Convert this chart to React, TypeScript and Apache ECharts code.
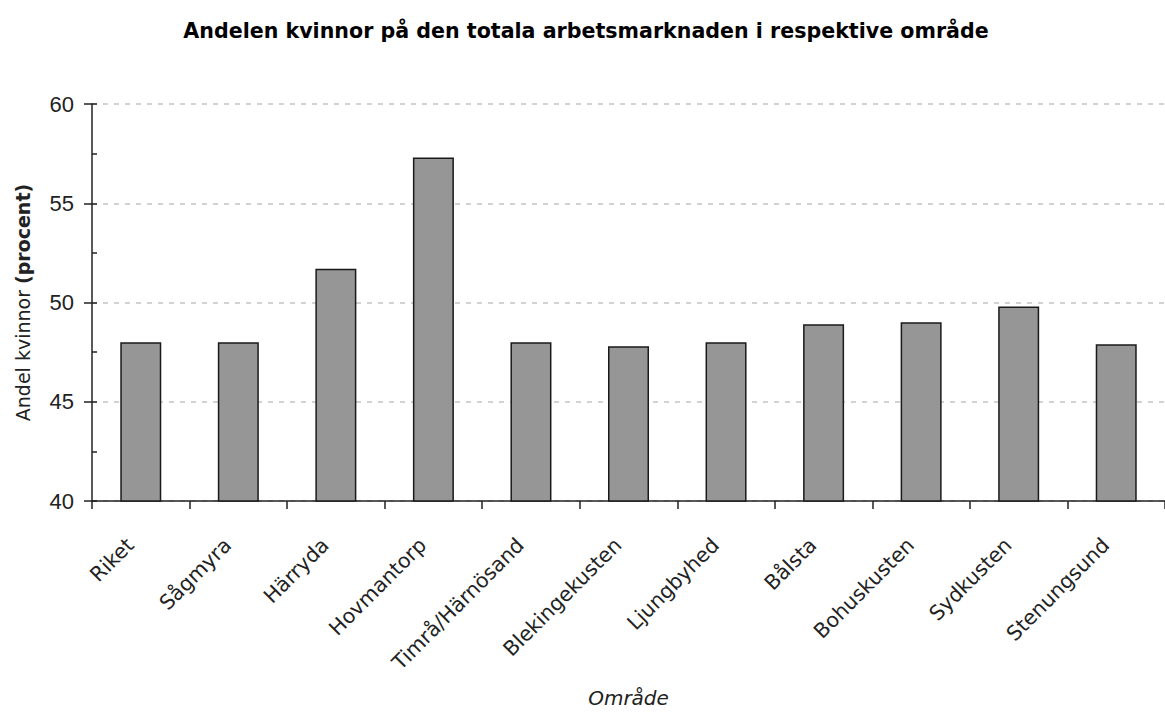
import React, { useEffect, useRef } from "react";
import * as echarts from "echarts";

const categories = [
  "Riket",
  "Sågmyra",
  "Härryda",
  "Hovmantorp",
  "Timrå/Härnösand",
  "Blekingekusten",
  "Ljungbyhed",
  "Bålsta",
  "Bohuskusten",
  "Sydkusten",
  "Stenungsund",
];
const values = [48.0, 48.0, 51.7, 57.3, 48.0, 47.8, 48.0, 48.9, 49.0, 49.8, 47.9];
const yMin = 40;
const yMax = 60;
const yInterval = 5;

export default function App() {
  const ref = useRef<HTMLDivElement>(null);
  useEffect(() => {
    if (!ref.current) return;
    const chart = echarts.init(ref.current, undefined, { renderer: "svg" });
    const font = "'DejaVu Sans', sans-serif";
    const numFont = "'Liberation Sans', Arial, sans-serif";
    chart.setOption({
      animation: false,
      backgroundColor: "#ffffff",
      title: {
        text: "Andelen kvinnor på den totala arbetsmarknaden i respektive område",
        left: 581,
        textAlign: "center",
        top: 15,
        textStyle: { fontFamily: font, fontSize: 20.6, fontWeight: "bold", color: "#000" },
      },
      grid: { left: 92, top: 104, width: 1078, height: 401 },
      xAxis: {
        type: "category",
        data: categories,
        boundaryGap: true,
        name: "Område",
        nameLocation: "middle",
        nameGap: 187,
        nameTextStyle: { fontFamily: font, fontSize: 20, fontStyle: "italic", color: "#222" },
        axisLine: { lineStyle: { color: "#222", width: 1.5 } },
        axisTick: { show: true, length: 8, lineStyle: { color: "#222", width: 1.5 } },
        axisLabel: {
          rotate: 45,
          interval: 0,
          margin: 30,
          padding: [0, 15, 0, 0],
          fontFamily: font,
          fontSize: 20.5,
          color: "#222",
        },
        splitLine: { show: false },
      },
      yAxis: [
        {
          type: "value",
          min: yMin,
          max: yMax,
          interval: yInterval,
          name: "{n|Andel kvinnor }{b|(procent)}",
          nameLocation: "middle",
          nameRotate: 90,
          nameGap: 60,
          nameTextStyle: {
            rich: {
              n: { fontFamily: font, fontSize: 19, color: "#222" },
              b: { fontFamily: font, fontSize: 19, fontWeight: "bold", color: "#222" },
            },
          },
          axisLine: { show: true, lineStyle: { color: "#222", width: 1.5 } },
          axisTick: { show: true, length: 8, lineStyle: { color: "#222", width: 1.5 } },
          axisLabel: { margin: 18, fontFamily: numFont, fontSize: 22, color: "#222" },
          splitLine: {
            show: true,
            lineStyle: { color: "#c4c4c4", type: [5, 6], width: 1.5 },
          },
        },
        {
          type: "value",
          min: yMin,
          max: yMax,
          interval: yInterval,
          position: "left",
          axisLine: { show: false },
          axisTick: { show: true, inside: true, length: 5, lineStyle: { color: "#222", width: 1.5 } },
          minorTick: { show: true, splitNumber: 2, length: 5, lineStyle: { color: "#222", width: 1.5 } },
          axisLabel: { show: false },
          splitLine: { show: false },
        },
      ],
      series: [
        {
          type: "bar",
          data: values,
          barWidth: 41,
          itemStyle: { color: "#969696", borderColor: "#1a1a1a", borderWidth: 1.5 },
        },
      ],
    });
    return () => chart.dispose();
  }, []);
  return (
    <div
      ref={ref}
      style={{ position: "absolute", left: 0, top: 0, width: 1165, height: 713 }}
    />
  );
}
